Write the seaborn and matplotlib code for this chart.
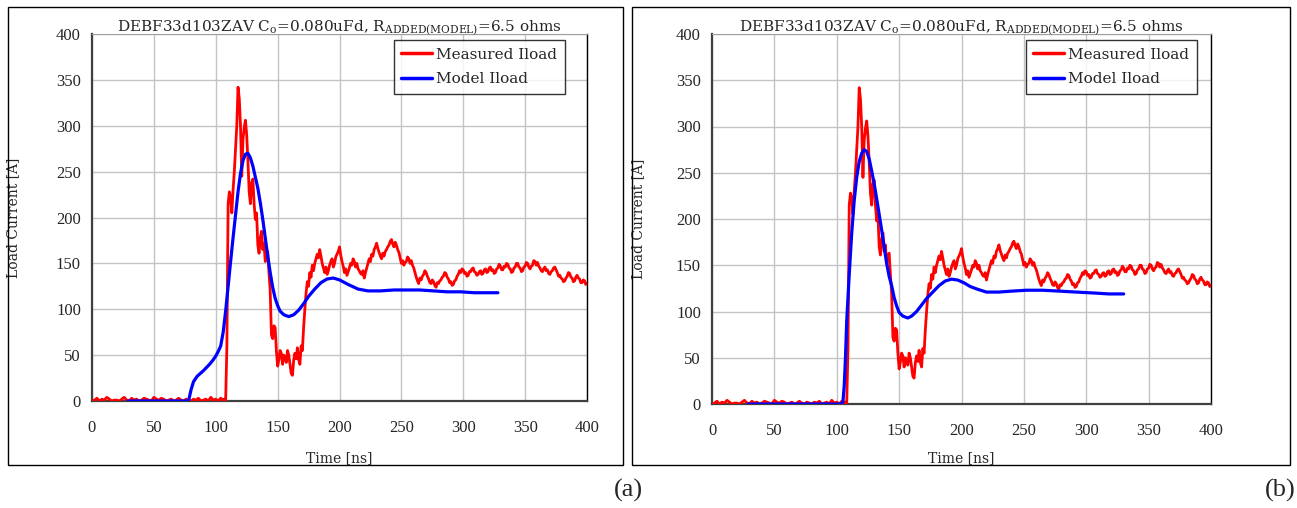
import numpy as np
import pandas as pd
import matplotlib
matplotlib.use("Agg")
import matplotlib.pyplot as plt
from matplotlib.patches import Rectangle
import seaborn as sns

# ---------------- data ----------------
# measured load current (same measurement in both panels), in three segments
meas_base_start, meas_base_step = 0, 2
meas_base = [0, 1, 3, 0, 2, 1, 4, 2, 0, 1, 1, 0, 2, 4, 1, 0, 3, 1, 2, 0,
             1, 3, 2, 1, 0, 4, 2, 1, 3, 2, 0, 1, 2, 0, 1, 3, 1, 0, 2, 1,
             0, 2, 1, 3, 0, 1, 2, 0, 4, 1, 2, 0, 3, 1]
meas_peak_start, meas_peak_step = 107, 1
meas_peak = [2, 1, 60, 215, 228, 222, 205, 230, 250, 275, 300, 342, 330, 300,
             245, 285, 298, 306, 290, 262, 228, 215, 238, 242, 215, 198, 205,
             170, 161, 178, 185, 165, 172, 152, 160, 163, 140, 120, 72, 68, 82,
             80, 55, 38, 45, 55, 52, 40, 50, 48, 42, 55, 50, 40, 30, 28, 45, 52,
             46, 58, 45, 40, 60, 55, 80, 100, 118, 130, 125, 140, 135, 148, 142, 150]
meas_tail_start, meas_tail_step = 182, 1
meas_tail = [160, 156, 165, 158, 150, 145, 140, 146, 138, 142,
             148, 152, 155, 146, 150, 157, 160, 163, 168, 159,
             152, 147, 140, 144, 137, 141, 145, 150, 148, 155,
             152, 146, 150, 144, 142, 139, 138, 142, 134, 140,
             145, 150, 155, 152, 160, 158, 165, 168, 172, 166,
             162, 158, 155, 161, 158, 163, 165, 168, 170, 174,
             176, 171, 168, 173, 170, 165, 162, 156, 150, 153,
             148, 151, 152, 157, 155, 150, 153, 148, 145, 140,
             135, 131, 128, 134, 132, 136, 138, 142, 140, 136,
             133, 129, 128, 132, 130, 126, 124, 129, 128, 131,
             132, 135, 136, 140, 139, 135, 133, 129, 130, 126,
             127, 131, 132, 136, 138, 142, 140, 144, 143, 139,
             140, 136, 137, 141, 141, 144, 145, 141, 140, 137,
             138, 141, 142, 138, 139, 143, 144, 140, 141, 145,
             146, 142, 143, 139, 140, 144, 145, 149, 147, 143,
             143, 147, 146, 150, 149, 145, 144, 140, 141, 145,
             146, 150, 150, 146, 145, 141, 142, 146, 147, 151,
             150, 146, 144, 147, 148, 153, 152, 148, 151, 147,
             145, 142, 141, 144, 146, 142, 143, 139, 138, 141,
             142, 145, 146, 143, 140, 136, 137, 134, 133, 130,
             131, 134, 136, 140, 139, 135, 134, 130, 131, 135,
             137, 134, 133, 129, 129, 132, 131, 127, 128]

# model load current, panel (a)
model_a_t = [29, 78, 80, 82, 85, 90, 95, 98, 100, 102, 104, 106, 108, 110, 112,
             114, 116, 118, 120, 122, 124, 126, 128, 130, 132, 134, 136, 138,
             140, 142, 144, 146, 148, 150, 152, 155, 159, 163, 167, 171, 175,
             180, 185, 190, 195, 200, 207, 215, 223, 233, 244, 255, 265, 276,
             287, 298, 309, 320, 328]
model_a_v = [0, 0, 12, 21, 27, 33, 40, 45, 49, 54, 60, 75, 98, 125, 152,
             178, 203, 228, 248, 262, 269, 270, 265, 256, 244, 232, 216, 198,
             178, 158, 140, 124, 112, 104, 98, 94, 92, 94, 99, 106, 114,
             122, 129, 133, 134, 132, 127, 122, 120, 120, 121, 121, 121, 120,
             119, 119, 118, 118, 118]

# model load current, panel (b)
model_b_t = [29, 104, 105, 106, 107, 108, 110, 112, 114, 116, 118, 120, 122,
             124, 126, 128, 130, 132, 134, 136, 138, 140, 142, 144, 146, 148,
             150, 153, 157, 160, 164, 168, 172, 177, 182, 187, 192, 197, 202,
             207, 213, 220, 230, 240, 252, 265, 279, 292, 306, 318, 330]
model_b_v = [0, 0, 3, 20, 50, 90, 140, 185, 220, 245, 262, 271, 275,
             273, 265, 252, 238, 222, 205, 188, 170, 152, 138, 128, 115, 106,
             99, 95, 93, 95, 100, 107, 114, 121, 128, 133, 135, 134, 131,
             127, 124, 121, 121, 122, 123, 123, 122, 121, 120, 119, 119]

title_txt = r"DEBF33d103ZAV C$_\mathrm{o}$=0.080uFd, R$_\mathrm{ADDED(MODEL)}$=6.5 ohms"
x_ticks = [0, 50, 100, 150, 200, 250, 300, 350, 400]
y_ticks = [0, 50, 100, 150, 200, 250, 300, 350, 400]
xlabel_txt = "Time [ns]"
ylabel_txt = "Load Current [A]"
legend_labels = ["Measured Iload", "Model Iload"]
panel_labels = ["(a)", "(b)"]

# -------------- assemble --------------
def seg_times(start, step, vals):
    return start + step * np.arange(len(vals))

meas_t = np.concatenate([seg_times(meas_base_start, meas_base_step, meas_base),
                         seg_times(meas_peak_start, meas_peak_step, meas_peak),
                         seg_times(meas_tail_start, meas_tail_step, meas_tail)])
meas_v = np.concatenate([meas_base, meas_peak, meas_tail]).astype(float)
df_meas = pd.DataFrame({"t": meas_t, "I": meas_v})
df_a = pd.DataFrame({"t": model_a_t, "I": model_a_v})
df_b = pd.DataFrame({"t": model_b_t, "I": model_b_v})

sns.set_style("white")
plt.rcParams["font.family"] = ["DejaVu Serif"]
plt.rcParams["mathtext.fontset"] = "dejavuserif"

W, H = 1297, 508
fig = plt.figure(figsize=(W / 100, H / 100), dpi=100)

panels = [
    dict(box=(8, 7, 623, 465), ax=(92, 34, 587, 401), model=df_a,
         leg=(565, 40), ylab_x=20, xlab_y=451, plabel=(628, 490)),
    dict(box=(632, 7, 1290, 465), ax=(712, 34, 1211, 404), model=df_b,
         leg=(1197, 40), ylab_x=645, xlab_y=451, plabel=(1280, 490)),
]

for i, p in enumerate(panels):
    bx0, by0, bx1, by1 = p["box"]
    fig.patches.append(Rectangle((bx0 / W, 1 - by1 / H), (bx1 - bx0) / W, (by1 - by0) / H,
                                 transform=fig.transFigure, fill=False,
                                 edgecolor="black", linewidth=1.0, zorder=0))
    x0, y0, x1, y1 = p["ax"]
    ax = fig.add_axes([x0 / W, 1 - y1 / H, (x1 - x0) / W, (y1 - y0) / H])
    ax.set_xlim(0, 400)
    ax.set_ylim(0, 400)
    ax.set_xticks(x_ticks)
    ax.set_yticks(y_ticks)
    ax.grid(True, color="#c4c4c4", linewidth=1.0)
    ax.set_axisbelow(True)

    sns.lineplot(data=df_meas, x="t", y="I", ax=ax, color="#ff0000", linewidth=2.0,
                 label=legend_labels[0], estimator=None, sort=False, zorder=3)
    sns.lineplot(data=p["model"], x="t", y="I", ax=ax, color="#0000ff", linewidth=2.3,
                 label=legend_labels[1], estimator=None, sort=False, zorder=4)

    for s in ["left", "bottom"]:
        ax.spines[s].set_color("#404040")
        ax.spines[s].set_linewidth(1.6)
    ax.spines["top"].set_color("#a0a0a0")
    ax.spines["top"].set_linewidth(0.8)
    ax.spines["right"].set_color("black")
    ax.spines["right"].set_linewidth(1.0)
    ax.tick_params(axis="both", direction="out", length=4, width=1, color="#404040",
                   labelsize=12, pad=4)
    ax.tick_params(axis="x", pad=10)
    for lab in ax.get_xticklabels() + ax.get_yticklabels():
        lab.set_fontfamily("Liberation Serif")

    ax.set_title(title_txt, fontsize=11, pad=2)
    ax.set_xlabel(xlabel_txt, fontsize=10)
    ax.set_ylabel(ylabel_txt, fontsize=10)
    ax.yaxis.set_label_coords((p["ylab_x"] - x0) / (x1 - x0), 0.5)
    ax.xaxis.set_label_coords(0.5, (y1 - p["xlab_y"]) / (y1 - y0))

    lx, ly = p["leg"]
    leg = ax.legend(loc="upper right",
                    bbox_to_anchor=((lx - x0) / (x1 - x0), (y1 - ly) / (y1 - y0)),
                    frameon=True, fancybox=False, edgecolor="black", fontsize=11,
                    handlelength=2.0, handletextpad=0.3, borderpad=0.5,
                    labelspacing=0.7, borderaxespad=0)
    leg.get_frame().set_linewidth(1.0)
    for line in leg.get_lines():
        line.set_linewidth(2.5)

    px, py = p["plabel"]
    fig.text(px / W, 1 - py / H, panel_labels[i], fontsize=19,
             family="Liberation Serif", ha="center", va="center")

fig.savefig("out.png", dpi=100)
